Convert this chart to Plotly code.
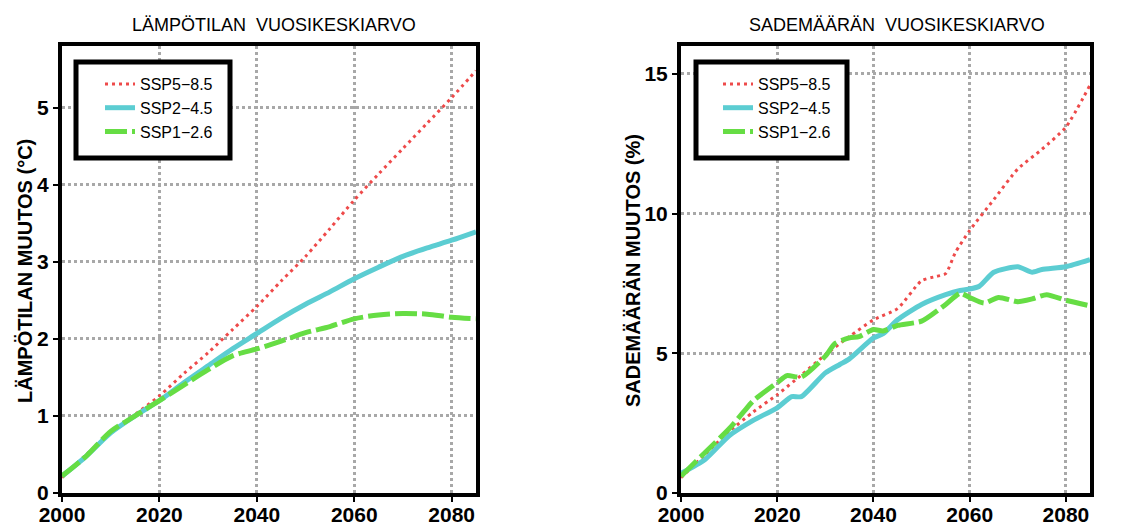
import plotly.graph_objects as go

# ---------------- data ----------------
temp_years = [2000, 2005, 2010, 2015, 2020, 2025, 2030, 2035, 2040, 2045,
              2050, 2055, 2060, 2065, 2070, 2075, 2080, 2085]
temp_ssp585 = [0.20, 0.50, 0.78, 1.02, 1.26, 1.55, 1.82, 2.12, 2.42, 2.75,
               3.07, 3.43, 3.80, 4.14, 4.47, 4.80, 5.13, 5.48]
temp_ssp245 = [0.22, 0.48, 0.78, 1.00, 1.20, 1.43, 1.65, 1.87, 2.07, 2.27,
               2.45, 2.61, 2.78, 2.93, 3.07, 3.18, 3.28, 3.39]
temp_ssp126 = [0.22, 0.48, 0.80, 1.00, 1.20, 1.40, 1.60, 1.78, 1.87, 1.97,
               2.08, 2.16, 2.26, 2.31, 2.33, 2.32, 2.28, 2.26]

pr_years_585 = [2000, 2005, 2010, 2015, 2020, 2025, 2030, 2035, 2040, 2045,
                2050, 2053, 2055, 2057, 2060, 2065, 2070, 2075, 2080, 2085]
pr_ssp585 = [0.55, 1.38, 2.20, 2.90, 3.52, 4.22, 4.95, 5.60, 6.20, 6.60,
             7.60, 7.75, 7.85, 8.60, 9.40, 10.50, 11.60, 12.30, 13.10, 14.60]

pr_years_245 = [2000, 2005, 2010, 2015, 2020, 2023, 2025, 2030, 2033, 2035,
                2040, 2042, 2045, 2050, 2055, 2058, 2060, 2062, 2065, 2070,
                2073, 2075, 2080, 2085]
pr_ssp245 = [0.70, 1.20, 2.05, 2.60, 3.05, 3.45, 3.45, 4.30, 4.60, 4.80,
             5.55, 5.70, 6.20, 6.75, 7.10, 7.25, 7.30, 7.40, 7.90, 8.10,
             7.90, 8.00, 8.10, 8.35]

pr_years_126 = [2000, 2005, 2010, 2013, 2015, 2020, 2022, 2025, 2030, 2032,
                2035, 2037, 2040, 2042, 2045, 2050, 2055, 2058, 2060, 2063,
                2066, 2070, 2073, 2076, 2080, 2085]
pr_ssp126 = [0.60, 1.45, 2.30, 2.90, 3.30, 3.95, 4.20, 4.15, 4.90, 5.35,
             5.55, 5.60, 5.85, 5.80, 6.00, 6.15, 6.75, 7.15, 7.00, 6.80,
             7.00, 6.85, 6.95, 7.10, 6.90, 6.70]

x_ticks = [2000, 2020, 2040, 2060, 2080]
temp_ticks = [0, 1, 2, 3, 4, 5]
pr_ticks = [0, 5, 10, 15]

legend_names = ["SSP5\u22128.5", "SSP2\u22124.5", "SSP1\u22122.6"]

RED = "#ee4a4a"
CYAN = "#5ccdd2"
GREEN = "#66dd44"

styles = [
    dict(color=RED, width=3, dash="3px,4px"),
    dict(color=CYAN, width=5, dash="solid"),
    dict(color=GREEN, width=5, dash="22px,5px"),
]

fig = go.Figure()

left_series = [(temp_years, temp_ssp585), (temp_years, temp_ssp245), (temp_years, temp_ssp126)]
right_series = [(pr_years_585, pr_ssp585), (pr_years_245, pr_ssp245), (pr_years_126, pr_ssp126)]

for (xs, ys), nm, st in zip(left_series, legend_names, styles):
    fig.add_trace(go.Scatter(x=xs, y=ys, mode="lines", name=nm, line=dict(shape="spline", smoothing=0.8, **st),
                             xaxis="x", yaxis="y", legend="legend"))
for (xs, ys), nm, st in zip(right_series, legend_names, styles):
    fig.add_trace(go.Scatter(x=xs, y=ys, mode="lines", name=nm, line=dict(shape="spline", smoothing=0.6, **st),
                             xaxis="x2", yaxis="y2", legend="legend2"))

FONT = "Liberation Sans, Arial, sans-serif"
tickfont = dict(family=FONT, size=21, color="black", weight="bold")

axis_common = dict(
    showline=True, linecolor="black", linewidth=4, mirror=True,
    showgrid=True, gridcolor="#a8a8a8", gridwidth=3, griddash="dot",
    ticks="outside", ticklen=5, tickwidth=2, tickcolor="black",
    tickfont=tickfont, zeroline=False, automargin=False,
)

W, H = 1134, 526
dom_y = [1 - 493 / H, 1 - 46 / H]
dom_x1 = [62 / W, 476 / W]
dom_x2 = [681 / W, 1090 / W]

legend_common = dict(
    bgcolor="rgba(0,0,0,0)", borderwidth=0,
    font=dict(family=FONT, size=16, color="black"),
    xanchor="left", yanchor="top", tracegroupgap=0,
)

box_style = dict(type="rect", xref="paper", yref="paper", layer="above",
                 line=dict(color="black", width=5), fillcolor="white")

fig.update_layout(
    width=W, height=H,
    margin=dict(l=0, r=0, t=0, b=0, autoexpand=False),
    paper_bgcolor="white", plot_bgcolor="white",
    xaxis=dict(domain=dom_x1, range=[2000, 2085], tickvals=x_ticks, anchor="y",
               ticklabelstandoff=-5, **axis_common),
    yaxis=dict(domain=dom_y, range=[0, 5.8], tickvals=temp_ticks, anchor="x", **axis_common),
    xaxis2=dict(domain=dom_x2, range=[2000, 2085], tickvals=x_ticks, anchor="y2",
                ticklabelstandoff=-5, **axis_common),
    yaxis2=dict(domain=dom_y, range=[0, 16], tickvals=pr_ticks, anchor="x2", **axis_common),
    legend=dict(x=100 / W, y=1 - 67 / H, **legend_common),
    legend2=dict(x=718 / W, y=1 - 67 / H, **legend_common),
    shapes=[
        dict(x0=76 / W, x1=230 / W, y0=1 - 158 / H, y1=1 - 62 / H, **box_style),
        dict(x0=696 / W, x1=847 / W, y0=1 - 158 / H, y1=1 - 62 / H, **box_style),
    ],
    annotations=[
        dict(text="L\u00c4MP\u00d6TILAN  VUOSIKESKIARVO", x=274 / W, y=1 - 25 / H,
             xref="paper", yref="paper", showarrow=False, xanchor="center", yanchor="middle",
             font=dict(family=FONT, size=18, color="black")),
        dict(text="SADEM\u00c4\u00c4R\u00c4N  VUOSIKESKIARVO", x=897 / W, y=1 - 25 / H,
             xref="paper", yref="paper", showarrow=False, xanchor="center", yanchor="middle",
             font=dict(family=FONT, size=18, color="black")),
        dict(text="L\u00c4MP\u00d6TILAN MUUTOS (\u00b0C)", x=25 / W, y=1 - 271 / H,
             xref="paper", yref="paper", showarrow=False, textangle=-90,
             xanchor="center", yanchor="middle",
             font=dict(family=FONT, size=20, color="black", weight="bold")),
        dict(text="SADEM\u00c4\u00c4R\u00c4N MUUTOS (%)", x=633 / W, y=1 - 271 / H,
             xref="paper", yref="paper", showarrow=False, textangle=-90,
             xanchor="center", yanchor="middle",
             font=dict(family=FONT, size=20, color="black", weight="bold")),
    ],
)

fig.write_html("out.html")
